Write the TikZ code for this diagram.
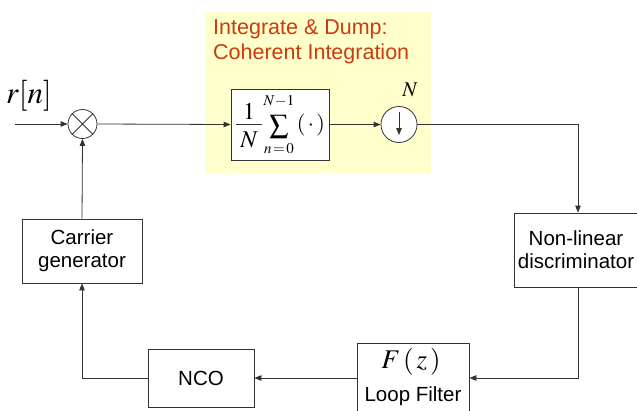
\documentclass[tikz,border=0pt]{standalone}
\usepackage{mathptmx}
\usepackage{fontspec}
\setmainfont{Liberation Sans}
\usetikzlibrary{arrows.meta}
\definecolor{idyellow}{HTML}{FFFFCC}
\definecolor{idred}{HTML}{CC3A10}
\definecolor{lncol}{HTML}{333333}
\tikzset{
  blk/.style={draw=lncol, line width=0.8pt, fill=white, inner sep=0pt, font=\fontsize{20.5}{23}\selectfont, align=center},
  conn/.style={draw=lncol, line width=0.8pt, -{Triangle[length=7pt,width=5.5pt]}},
  plain/.style={draw=lncol, line width=0.8pt},
  mtxt/.style={inner sep=0pt, font=\fontsize{24}{26}\selectfont},
  mlim/.style={inner sep=0pt, font=\fontsize{15}{17}\selectfont}
}
\begin{document}
\begin{tikzpicture}[x=1pt,y=-1pt]
\useasboundingbox (0,0) rectangle (637,410);
% yellow background
\fill[idyellow] (205,12) rectangle (431,173);
\node[anchor=north west, text=idred, font=\fontsize{21.5}{25}\selectfont, align=left, inner sep=0pt] (title) at (213,19) {Integrate \& Dump:\\Coherent Integration};
% input
\coordinate (in) at (15,124);
\node[anchor=south west, inner sep=0pt, font=\fontsize{31}{34}\selectfont] (rn) at (6,111) {$r[n]$};
\node[circle, draw=lncol, line width=0.8pt, minimum size=29pt, inner sep=0pt, fill=white] (mix) at (82.5,124) {};
\draw[plain] (mix.north west) -- (mix.south east) (mix.north east) -- (mix.south west);
% sum box
\node[blk, minimum width=98pt, minimum height=71pt] (sum) at (280,124.5) {};
\node[mtxt] (one) at (249,111) {$1$};
\draw[plain] (236,124.5) -- (262,124.5);
\node[mtxt] (den) at (249,140) {$N$};
\node[inner sep=0pt, font=\fontsize{27}{30}\selectfont] (sig) at (279,127) {$\sum$};
\node[mlim] (up) at (279,101) {$N\!-\!1$};
\node[mlim] (lo) at (279,149) {$n\!=\!0$};
\node[inner sep=0pt, font=\fontsize{22}{24}\selectfont] (dot) at (311,125) {$(\,\cdot\,)$};
% downsampler
\node[circle, draw=lncol, line width=0.8pt, minimum size=36pt, inner sep=0pt, fill=white] (ds) at (399,124.5) {};
\coordinate (dst) at (399,112);
\coordinate (dsb) at (399,135);
\draw[conn] (dst) -- (dsb);
\node[inner sep=0pt, font=\fontsize{21}{23}\selectfont] (Nlab) at (410,90) {$N$};
% discriminator
\node[blk, minimum width=124pt, minimum height=74pt] (disc) at (576,250) {Non-linear\\discriminator};
% loop filter
\node[blk, minimum width=112pt, minimum height=74pt, anchor=north] (lf) at (413,343) {};
\node[inner sep=0pt, font=\fontsize{27}{30}\selectfont] (fz) at (411,362) {$F\,(\,z\,)$};
\node[inner sep=0pt, font=\fontsize{20.5}{23}\selectfont] (lftxt) at (413,396) {Loop Filter};
% NCO
\node[blk, minimum width=106pt, minimum height=58pt] (nco) at (201,378) {NCO};
% carrier generator
\node[blk, minimum width=120pt, minimum height=64pt] (cg) at (82,251) {Carrier\\generator};
% connectors
\draw[conn] (in) -- (mix.west);
\draw[conn] (mix.east) -- (sum.west);
\draw[conn] (sum.east) -- (ds.west);
\draw[conn] (ds.east) -- (578,124.5) -- (disc.north -| 578,0);
\coordinate (rc) at (578,378);
\draw[conn] (disc.south -| 578,0) -- (rc) -- (lf.east |- rc);
\draw[conn] (lf.west |- rc) -- (nco.east);
\coordinate (lc) at (82,378);
\draw[conn] (nco.west) -- (lc) -- (cg.south);
\draw[conn] (cg.north) -- (mix.south);
\end{tikzpicture}
\end{document}
